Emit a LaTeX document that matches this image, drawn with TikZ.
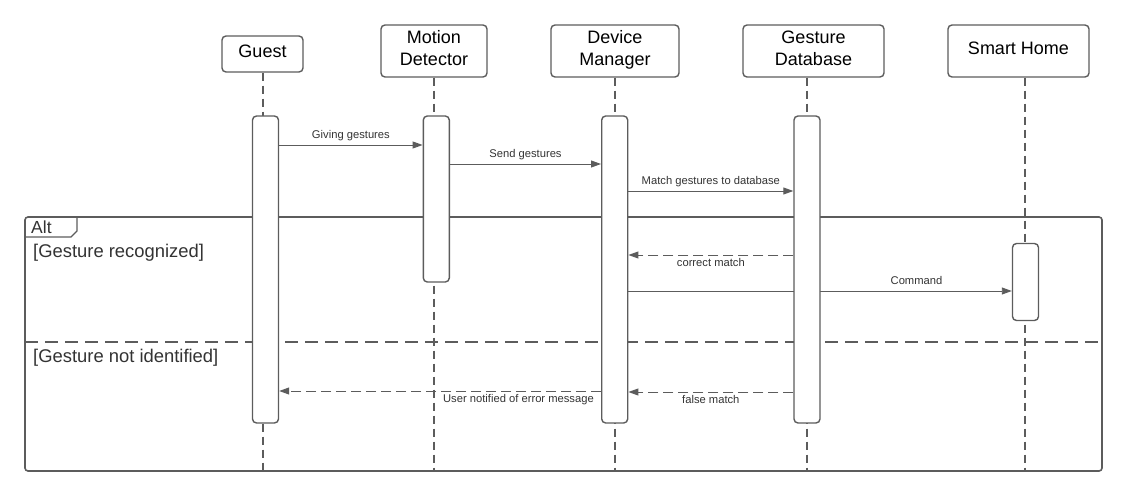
\documentclass[tikz,border=0pt]{standalone}
\usepackage{fontspec}
\setmainfont{Liberation Sans}
\usetikzlibrary{arrows.meta}
\definecolor{linegray}{RGB}{92,92,92}
\definecolor{textgray}{RGB}{51,51,51}
\begin{document}
\begin{tikzpicture}[x=1pt,y=-1pt,
  actor/.style={draw=linegray, line width=1.4pt, rounded corners=4pt, align=center, inner sep=0pt, minimum height=52pt, text depth=6pt, font=\fontsize{18}{22}\selectfont},
  act/.style={draw=linegray, fill=white, line width=1.4pt, rounded corners=4pt, inner sep=0pt, minimum width=26pt},
  lifeline/.style={linegray, line width=1.4pt, dash pattern=on 8pt off 5pt},
  msg/.style={linegray, line width=0.9pt, -{Triangle[length=10pt,width=7pt]}},
  reply/.style={msg, dash pattern=on 10pt off 5pt},
  lbl/.style={text=textgray, font=\fontsize{11.2}{13}\selectfont, inner sep=3pt, text height=8pt, text depth=3pt},
  guard/.style={text=textgray, font=\fontsize{18.4}{21}\selectfont, anchor=west, inner sep=0pt}]
\useasboundingbox (0,0) rectangle (1128,500);

% participants
\node[actor, minimum width=81pt, minimum height=36pt] (guest) at (262.5,54) {Guest};
\node[actor, minimum width=106pt] (motion) at (434,51) {Motion\\Detector};
\node[actor, minimum width=128pt] (device) at (615,51) {Device\\Manager};
\node[actor, minimum width=141pt] (gdb) at (813.5,51) {Gesture\\Database};
\node[actor, minimum width=141pt] (home) at (1018.5,51) {Smart Home};

% alt frame
\draw[linegray, line width=1.6pt, rounded corners=3pt] (25,217) rectangle (1102,471);
\draw[linegray, line width=1.4pt] (25,237) -- (71,237) -- (77,231) -- (77,217);
\node[text=textgray, font=\fontsize{17.5}{20}\selectfont, anchor=west, inner sep=0pt] (alt) at (31,227) {Alt};
\node[guard] (g1) at (33,252.5) {[Gesture recognized]};
\node[guard] (g2) at (33,357.5) {[Gesture not identified]};
\draw[linegray, line width=1.6pt, dash pattern=on 13pt off 7pt] (25,342) -- (1102,342);

% lifelines
\foreach \n/\x in {guest/263, motion/434, device/615, gdb/807, home/1025}
  \draw[lifeline] (\x,0 |- \n.south) -- (\x,471);

% command goes behind the database bar
\node[act, minimum height=307pt] (deviceact) at (614.7,269.5) {};
\node[act, minimum height=77pt] (homeact) at (1025.5,282) {};
\draw[msg] (deviceact.east |- 0,291) -- (homeact.west |- 0,291);
\node[lbl, above] (cmd) at (916.5,291) {Command};

% activations
\node[act, minimum height=307pt] (guestact) at (265.5,269.5) {};
\node[act, minimum height=166pt] (motionact) at (436.3,199) {};
\node[act, minimum height=307pt] (gdbact) at (807,269.5) {};

% messages
\draw[msg] (guestact.east |- 0,145) -- node[lbl, above] {Giving gestures} (motionact.west |- 0,145);
\draw[msg] (motionact.east |- 0,164) -- node[lbl, above] {Send gestures} (deviceact.west |- 0,164);
\draw[msg] (deviceact.east |- 0,191) -- node[lbl, above] {Match gestures to database} (gdbact.west |- 0,191);
\draw[reply] (gdbact.west |- 0,255) -- node[lbl, below] {correct match} (deviceact.east |- 0,255);
\draw[reply] (gdbact.west |- 0,392) -- node[lbl, below] {false match} (deviceact.east |- 0,392);
\draw[reply] (deviceact.west |- 0,391) -- (guestact.east |- 0,391);
\node[lbl, below left] (err) at (597,391) {User notified of error message};
\end{tikzpicture}
\end{document}
